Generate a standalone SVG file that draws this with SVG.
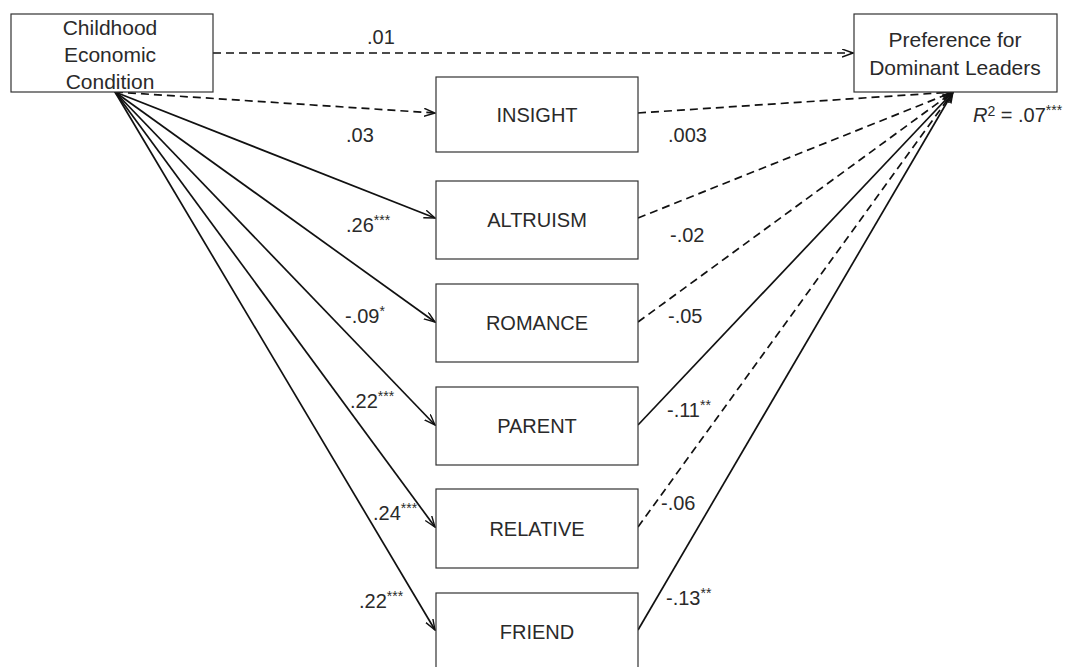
<svg xmlns="http://www.w3.org/2000/svg" width="1070" height="667" viewBox="0 0 1070 667">
<style>
text{font-family:"Liberation Sans",Arial,sans-serif;fill:#2a2a2a}
.box{fill:#fff;stroke:#333;stroke-width:1.2}
.nl{font-size:20px;text-anchor:middle}
.bl{font-size:21px;text-anchor:middle}
.lb{font-size:20px}
.st{font-size:14px}
.s{fill:none;stroke:#111;stroke-width:1.7;marker-end:url(#ah)}
.d{fill:none;stroke:#111;stroke-width:1.7;stroke-dasharray:8 5;marker-end:url(#ah)}
</style>
<defs>
<marker id="ah" markerUnits="userSpaceOnUse" markerWidth="12" markerHeight="10" refX="11" refY="4.5" orient="auto">
<path d="M0,0.5 L11,4.5 L0,8.5" fill="none" stroke="#111" stroke-width="1.4"/>
</marker>
</defs>
<rect width="1070" height="667" fill="#fff"/>
<g id="connectors">
<line class="d" x1="213" y1="53" x2="853" y2="53"/>
<line class="d" x1="115" y1="92" x2="435" y2="113"/>
<line class="s" x1="115" y1="92" x2="435" y2="218"/>
<line class="s" x1="115" y1="92" x2="435" y2="322"/>
<line class="s" x1="115" y1="92" x2="435" y2="425"/>
<line class="s" x1="115" y1="92" x2="435" y2="527"/>
<line class="s" x1="115" y1="92" x2="435" y2="630"/>
<line class="d" x1="638" y1="113" x2="953" y2="92"/>
<line class="d" x1="638" y1="218" x2="953" y2="92"/>
<line class="d" x1="638" y1="322" x2="953" y2="92"/>
<line class="s" x1="638" y1="425" x2="953" y2="92"/>
<line class="d" x1="638" y1="527" x2="953" y2="92"/>
<line class="s" x1="638" y1="630" x2="953" y2="92"/>
</g>
<g id="childhood">
<rect class="box" x="11" y="14" width="202" height="78"/>
<text class="bl" x="110" y="35">Childhood</text>
<text class="bl" x="110" y="62">Economic</text>
<text class="bl" x="110" y="89">Condition</text>
</g>
<g id="preference">
<rect class="box" x="854" y="14" width="203" height="78"/>
<text class="bl" x="955" y="47">Preference for</text>
<text class="bl" x="955" y="75">Dominant Leaders</text>
</g>
<g id="insight"><rect class="box" x="436" y="77" width="202" height="75"/><text class="nl" x="537" y="122">INSIGHT</text></g>
<g id="altruism"><rect class="box" x="436" y="181" width="202" height="78"/><text class="nl" x="537" y="227">ALTRUISM</text></g>
<g id="romance"><rect class="box" x="436" y="284" width="202" height="78"/><text class="nl" x="537" y="330">ROMANCE</text></g>
<g id="parent"><rect class="box" x="436" y="387" width="202" height="78"/><text class="nl" x="537" y="433">PARENT</text></g>
<g id="relative"><rect class="box" x="436" y="489" width="202" height="79"/><text class="nl" x="537" y="536">RELATIVE</text></g>
<g id="friend"><rect class="box" x="436" y="593" width="202" height="78"/><text class="nl" x="537" y="639">FRIEND</text></g>
<g id="labels">
<text class="lb" x="367" y="44">.01</text>
<text class="lb" x="346" y="142">.03</text>
<text class="lb" x="668" y="142">.003</text>
<text class="lb" x="346" y="232">.26<tspan class="st" dy="-7">***</tspan></text>
<text class="lb" x="670" y="242">-.02</text>
<text class="lb" x="345" y="323">-.09<tspan class="st" dy="-7">*</tspan></text>
<text class="lb" x="668" y="323">-.05</text>
<text class="lb" x="350" y="408">.22<tspan class="st" dy="-7">***</tspan></text>
<text class="lb" x="667" y="417">-.11<tspan class="st" dy="-7">**</tspan></text>
<text class="lb" x="373" y="520">.24<tspan class="st" dy="-7">***</tspan></text>
<text class="lb" x="661" y="510">-.06</text>
<text class="lb" x="359" y="608">.22<tspan class="st" dy="-7">***</tspan></text>
<text class="lb" x="666" y="605">-.13<tspan class="st" dy="-7">**</tspan></text>
<text class="lb" x="973" y="122"><tspan font-style="italic">R</tspan><tspan class="st" dy="-6">2</tspan><tspan dy="6"> = .07</tspan><tspan class="st" dy="-7">***</tspan></text>
</g>
</svg>
